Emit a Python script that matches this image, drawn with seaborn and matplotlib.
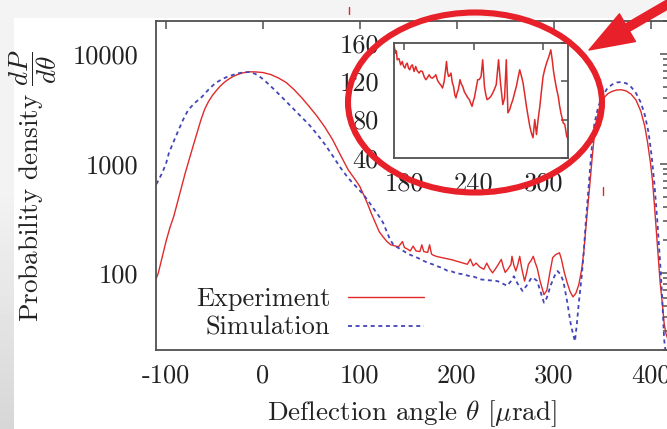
import numpy as np
import pandas as pd
import matplotlib
matplotlib.use("Agg")
import matplotlib.pyplot as plt
import seaborn as sns
from matplotlib.patches import Ellipse, Rectangle, FancyArrowPatch
from matplotlib.ticker import FixedLocator, NullFormatter, LogLocator
from matplotlib.lines import Line2D

# ---------------- data ----------------
exp_theta = [-110, -108, -104, -100, -96, -92, -88, -84, -80, -76,
             -72, -68, -64, -60, -56, -52, -48, -44, -40, -36,
             -32, -28, -24, -20, -16, -12, -8, -4, 0, 8,
             16, 24, 32, 40, 48, 56, 64, 72, 80, 88,
             96, 100, 104, 108, 112, 116, 120, 124,
             128, 132, 136, 140, 144, 146, 150, 152, 155, 158,
             162, 164, 166, 170, 172, 174, 176, 180, 185, 190,
             195, 200, 204, 208, 211, 214, 217, 220, 224, 228,
             231, 234, 237, 240, 243, 246, 248, 250, 253, 256,
             257, 259, 261, 263, 265, 267, 270, 272, 274, 277,
             279, 281, 283, 286, 290, 293, 296, 299, 302, 306,
             308, 311, 314, 317, 320, 323, 326, 329, 331, 334,
             337, 340, 343, 346, 349, 352, 356, 360, 365, 370,
             375, 380, 385, 390, 394, 397, 400, 402, 404, 406,
             408, 410, 412, 414, 416, 418]
exp_density = [90, 100, 140, 195, 260, 330, 450, 610, 830, 1100,
               1450, 1900, 2500, 3150, 3700, 4200, 4650, 5100, 5500, 5850,
               6150, 6400, 6600, 6750, 6850, 6880, 6870, 6830, 6780, 6500,
               6050, 5500, 4750, 4000, 3300, 2700, 2150, 1650, 1200, 880,
               700, 620, 520, 430, 350, 290, 240, 215,
               195, 182, 178, 175, 195, 172, 165, 160, 177, 160,
               158, 182, 158, 155, 182, 150, 146, 142, 139, 136,
               133, 129, 126, 123, 121, 135, 117, 124, 114, 109,
               124, 110, 101, 110, 121, 134, 115, 102, 110, 121,
               143, 118, 105, 120, 143, 112, 85, 100, 121, 132,
               143, 125, 112, 85, 64, 70, 100, 139, 148, 154,
               135, 102, 82, 68, 61, 66, 79, 110, 154, 310,
               600, 1200, 2200, 2900, 3500, 4000, 4350, 4550, 4700, 4720,
               4600, 4300, 3800, 3000, 2200, 1550, 1000, 700, 420, 240,
               140, 80, 55, 35, 28, 25]

sim_theta = [-110, -108, -104, -100, -97, -92, -87, -82, -77, -70,
             -63, -56, -49, -42, -36, -32, -26, -20, -14, -8,
             -2, 4, 10, 16, 22, 28, 34, 41, 48, 56,
             64, 72, 80, 88, 96, 104, 110, 116, 120, 124,
             127, 131, 135, 140, 145, 150,
             155, 160, 165, 170, 175, 180, 185, 190, 195, 200,
             207, 212, 218, 225, 230, 236, 242, 247, 252, 256,
             259, 263, 268, 271, 273, 276, 278, 281, 283, 286,
             290, 293, 297, 301, 304, 307, 310, 314, 318, 322,
             324, 326, 329, 331, 333, 336, 339, 342, 346, 350,
             355, 360, 365, 370, 375, 380, 385, 390, 394, 398,
             401, 404, 407, 410, 412, 414, 416]
sim_density = [650, 700, 820, 1000, 1250, 1600, 2030, 2550, 3100, 3600,
               4060, 4750, 5440, 5900, 6250, 6400, 6650, 6800, 6850, 6600,
               6100, 5500, 4900, 4350, 3850, 3400, 3000, 2600, 2250, 1850,
               1500, 1180, 920, 740, 620, 520, 440, 370, 330, 290,
               250, 205, 180, 170, 160, 150,
               144, 138, 131, 125, 121, 116, 112, 106, 104, 100,
               98, 95, 93, 88, 87, 86, 85, 81, 77, 85,
               94, 80, 69, 75, 79, 88, 92, 88, 85, 70,
               54, 60, 78, 95, 105, 98, 85, 55, 33, 24,
               35, 54, 95, 154, 280, 600, 1300, 2300, 3300, 4100,
               4800, 5250, 5500, 5560, 5400, 5000, 4400, 3600, 2800, 1910,
               1200, 650, 300, 120, 60, 25, 18]

inset_theta = [170.9, 172.3, 173.0, 173.7, 175.2, 176.7, 178.1, 179.2, 180.4, 181.4,
               182.4, 183.5, 184.5, 185.7, 186.8, 188.3, 189.7, 191.1, 192.6, 194.0,
               195.5, 197.0, 198.4, 199.9, 201.3, 202.8, 204.2, 205.7, 207.1, 208.6,
               210.0, 211.5, 212.9, 214.3, 215.5, 216.3, 217.2, 218.1, 219.1, 220.2,
               221.3, 222.4, 223.5, 224.5, 225.5, 226.5, 228.0, 229.2, 230.3, 231.8,
               233.2, 234.7, 236.1, 237.3, 238.4, 239.4, 240.4, 241.8, 243.3, 244.7,
               246.2, 247.6, 249.1, 250.3, 251.4, 253.5, 255.0, 256.3, 257.8, 259.3,
               261.3, 263.0, 265.0, 266.5, 268.0, 269.4, 270.9, 272.3, 273.7, 275.2,
               276.7, 278.2, 279.6, 281.0, 282.5, 284.0, 285.4, 286.9, 288.3, 289.7,
               291.1, 292.6, 294.1, 295.5, 297.0, 298.4, 299.8, 301.3, 302.8, 304.8,
               306.5, 307.7, 308.8, 310.0, 311.5, 312.9, 314.0, 315.2, 316.2, 317.2,
               318.5, 319.0, 320.2, 321.6]
inset_density = [158, 149.7, 152, 142.7, 144, 137.4, 140.9, 136, 134, 138,
                 139.2, 134, 132.2, 136, 137.4, 130.4, 135.7, 131, 128.8, 131,
                 130.4, 125, 121.8, 124, 127, 124, 123.5, 125, 127, 121,
                 118.3, 116, 113.1, 120, 132, 140.9, 130, 125.2, 126, 128.8,
                 119, 114.8, 106, 102.7, 108, 111.3, 121.8, 117, 114.8, 109,
                 106.1, 103, 100.9, 97, 93.9, 99, 102.7, 112, 121.8, 122,
                 125.2, 142.7, 114.8, 106, 100.9, 102.7, 105, 107.9, 112, 116.6,
                 142.7, 118.3, 95.7, 102.7, 142.7, 87, 90.4, 96, 100.9, 108,
                 114.8, 124, 132.2, 126, 118.3, 106, 93.9, 83, 73, 66,
                 60.9, 80, 64.3, 80, 93.9, 110, 125.2, 133, 139.2, 146.1,
                 153.1, 142.7, 131, 121.8, 112, 104.4, 95, 87, 82, 76.5,
                 75, 72, 62.6, 59]

series_labels = ["Experiment", "Simulation"]
x_ticks = [-100, 0, 100, 200, 300, 400]
x_tick_labels = ["-100", "0", "100", "200", "300", "400"]
y_ticks = [100, 1000, 10000]
y_tick_labels = ["100", "1000", "10000"]
inset_x_ticks = [180, 240, 300]
inset_x_tick_labels = ["180", "240", "300"]
inset_y_ticks = [40, 80, 120, 160]
inset_y_tick_labels = ["40", "80", "120", "160"]
x_label = r"Deflection angle $\theta$ [$\mu$rad]"
y_label = r"Probability density $\dfrac{dP}{d\theta}$"

# ---------------- style ----------------
sns.set_theme(style="white")
plt.rcParams["font.family"] = ["cmr10", "DejaVu Serif"]
plt.rcParams["mathtext.fontset"] = "cm"
plt.rcParams["axes.formatter.use_mathtext"] = True
plt.rcParams["axes.unicode_minus"] = False

RED = "#e02a2a"
BLUE = "#4444bb"
SPINE = "#505050"
MARK = "#e8202a"
TXT = "#222222"
FS = 19
LFS = 19.5

W, H = 667, 429
fig = plt.figure(figsize=(W / 100, H / 100), dpi=100)
fig.patch.set_facecolor("#f4f4f4")
fig.add_artist(Rectangle((14 / W, 0), 1, 411 / H, transform=fig.transFigure,
                         facecolor="white", edgecolor="none", zorder=-10))

# left grey gradient strip (slide background)
gax = fig.add_axes([0, 0, 14 / W, 411 / H], zorder=-5)
grad = np.concatenate([np.full(40, 0.955), np.linspace(0.955, 0.84, 60)])[:, None]
gax.imshow(grad, aspect="auto", cmap="gray", vmin=0, vmax=1)
gax.axis("off")

# ---------------- main axes ----------------
ax = fig.add_axes([156 / W, 79 / H, 512 / W, 329 / H])
ax.set_facecolor("white")
df_exp = pd.DataFrame({"theta": exp_theta, "density": exp_density})
df_sim = pd.DataFrame({"theta": sim_theta, "density": sim_density})
sns.lineplot(data=df_exp, x="theta", y="density", ax=ax, color=RED, lw=1.0,
             label=series_labels[0], sort=False, estimator=None)
sns.lineplot(data=df_sim, x="theta", y="density", ax=ax, color=BLUE, lw=1.3,
             label=series_labels[1], sort=False, estimator=None)
ax.lines[1].set_dashes([2.2, 2.0])
ax.set_yscale("log")
ax.set_xlim(-110.3, 418)
ax.set_ylim(20, 20000)

ax.xaxis.set_major_locator(FixedLocator(x_ticks))
ax.set_xticklabels(x_tick_labels)
ax.yaxis.set_major_locator(FixedLocator(y_ticks))
ax.set_yticklabels(y_tick_labels)
ax.yaxis.set_minor_locator(LogLocator(base=10, subs=np.arange(2, 10)))
ax.yaxis.set_minor_formatter(NullFormatter())
ax.tick_params(which="both", direction="in", top=True, right=True,
               color=SPINE, width=1.1, labelsize=FS, labelcolor=TXT)
ax.tick_params(which="major", length=6)
ax.tick_params(which="minor", length=3.5)
ax.tick_params(axis="x", pad=10)
ax.tick_params(axis="y", pad=12.5)
for s in ax.spines.values():
    s.set_color(SPINE)
    s.set_linewidth(1.3)

ax.set_xlabel(x_label, fontsize=LFS, color=TXT)
ax.set_ylabel(y_label, fontsize=LFS, color=TXT)
ax.xaxis.set_label_coords(0.5, (350 - 414) / 329)
ax.xaxis.label.set_va("center")
ax.yaxis.set_label_coords((33 - 156) / 512, 0.5)
ax.yaxis.label.set_va("center")

leg = ax.legend(loc="center", bbox_to_anchor=((310 - 156) / 512, (350 - 313.5) / 329),
                frameon=False, markerfirst=False, fontsize=FS, handlelength=2.9,
                handletextpad=0.65, labelspacing=0.2, borderpad=0, borderaxespad=0)
for t in leg.get_texts():
    t.set_color(TXT)

# ---------------- inset ----------------
iax = fig.add_axes([394.3 / W, (H - 157.7) / H, 174 / W, 114.4 / H])
iax.set_facecolor("white")
df_in = pd.DataFrame({"theta": inset_theta, "density": inset_density})
sns.lineplot(data=df_in, x="theta", y="density", ax=iax, color=RED, lw=1.1,
             sort=False, estimator=None, legend=False)
iax.set_xlim(171.2, 321.6)
iax.set_ylim(40, 160)
iax.xaxis.set_major_locator(FixedLocator(inset_x_ticks))
iax.set_xticklabels(inset_x_tick_labels)
iax.yaxis.set_major_locator(FixedLocator(inset_y_ticks))
iax.set_yticklabels(inset_y_tick_labels)
iax.tick_params(which="both", direction="in", top=True, right=True, length=5,
                color=SPINE, width=1.1, labelsize=FS, labelcolor=TXT)
iax.tick_params(axis="x", pad=10)
iax.tick_params(axis="y", pad=11)
iax.set_xlabel("")
iax.set_ylabel("")
for s in iax.spines.values():
    s.set_color(SPINE)
    s.set_linewidth(1.3)

# ---------------- annotations (red ellipse + arrow) ----------------
fig.add_artist(Ellipse((475 / W, 1 - 102.5 / H), 254 / W, 180 / H,
                       transform=fig.transFigure, fill=False,
                       edgecolor=MARK, linewidth=4.4, zorder=20))
fig.add_artist(FancyArrowPatch((682 / W, 1 + 4 / H), (589 / W, 1 - 50 / H),
                               transform=fig.transFigure,
                               arrowstyle="simple,head_length=3.2,head_width=2.3,tail_width=0.6",
                               mutation_scale=10, color=MARK, shrinkA=0, shrinkB=0,
                               zorder=21))
fig.add_artist(Line2D([349 / W, 349 / W], [1 - 7 / H, 1 - 14 / H],
                      transform=fig.transFigure, color=MARK, lw=1.0, zorder=21))
fig.add_artist(Line2D([603 / W, 603 / W], [1 - 187 / H, 1 - 195 / H],
                      transform=fig.transFigure, color=MARK, lw=1.0, zorder=21))

fig.savefig("out.png", dpi=100, facecolor=fig.get_facecolor())
